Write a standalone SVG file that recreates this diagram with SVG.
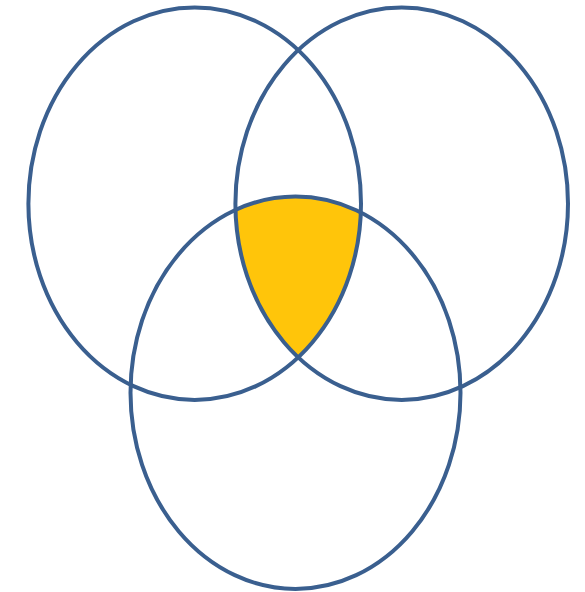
<svg xmlns="http://www.w3.org/2000/svg" width="585" height="592" viewBox="0 0 585 592">
<style>
.c{fill:none;stroke:#3A5F8F;stroke-width:4}
</style>
<defs>
<clipPath id="clipL"><ellipse cx="194.7" cy="203.7" rx="166.3" ry="196.2"/></clipPath>
<clipPath id="clipR"><ellipse cx="401.7" cy="203.7" rx="166.3" ry="196.2"/></clipPath>
</defs>
<rect width="585" height="592" fill="#fff"/>
<g id="intersection" clip-path="url(#clipL)">
<g clip-path="url(#clipR)">
<ellipse cx="295.5" cy="392.7" rx="165" ry="196.2" fill="#FFC50A"/>
</g>
</g>
<g id="left"><ellipse class="c" cx="194.7" cy="203.7" rx="166.3" ry="196.2"/></g>
<g id="right"><ellipse class="c" cx="401.7" cy="203.7" rx="166.3" ry="196.2"/></g>
<g id="bottom"><ellipse class="c" cx="295.5" cy="392.7" rx="165" ry="196.2"/></g>
</svg>
